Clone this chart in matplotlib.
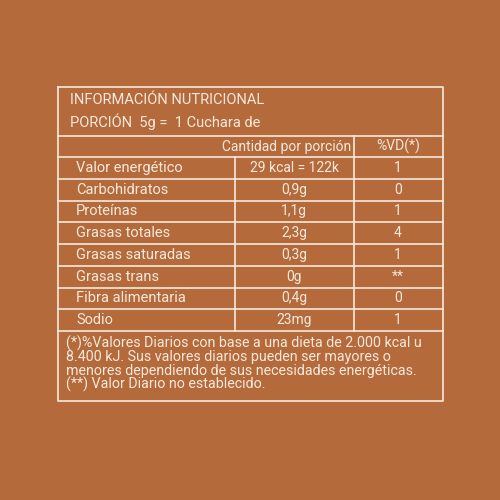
import matplotlib
matplotlib.use("Agg")
import matplotlib.pyplot as plt

nutrients = ["Valor energético", "Carbohidratos", "Proteínas", "Grasas totales",
             "Grasas saturadas", "Grasas trans", "Fibra alimentaria", "Sodio"]
amounts = ["29 kcal = 122k", "0,9g", "1,1g", "2,3g", "0,3g", "0g", "0,4g", "23mg"]
vd = ["1", "0", "1", "4", "1", "**", "0", "1"]
title = "INFORMACIÓN NUTRICIONAL"
portion = "PORCIÓN  5g =  1 Cuchara de"
col_head = ["Cantidad por porción", "%VD(*)"]
footnote = ("(*)%Valores Diarios con base a una dieta de 2.000 kcal u\n"
            "8.400 kJ. Sus valores diarios pueden ser mayores o\n"
            "menores dependiendo de sus necesidades energéticas.\n"
            "(**) Valor Diario no establecido.")

bg = "#B56A3C"
fg = "#F5E9DC"
plt.rcParams['font.family'] = ['Roboto', 'DejaVu Sans']

fig = plt.figure(figsize=(5, 5), dpi=100, facecolor=bg)
ax = fig.add_axes([0, 0, 1, 1])
ax.set_xlim(0, 500); ax.set_ylim(500, 0); ax.axis("off")
ax.set_facecolor(bg)

L, R, T, B = 58, 443, 87, 401
lw = 1.2
ax.plot([L, R, R, L, L], [T, T, B, B, T], color=fg, lw=lw)
ax.plot([L, R], [136, 136], color=fg, lw=lw)
ax.plot([L, R], [157, 157], color=fg, lw=lw)
y0, rh = 157, 21.75
ybot = y0 + rh * len(nutrients)
for i in range(1, len(nutrients) + 1):
    ax.plot([L, R], [y0 + rh * i, y0 + rh * i], color=fg, lw=lw)
ax.plot([235, 235], [y0, ybot], color=fg, lw=lw)
ax.plot([354, 354], [136, ybot], color=fg, lw=lw)

ax.text(70, 100, title, color=fg, fontsize=10.5, va="center", ha="left")
ax.text(70, 122, portion, color=fg, fontsize=10.5, va="center", ha="left")
ax.text(351, 146.5, col_head[0], color=fg, fontsize=10, va="center", ha="right")
ax.text(398, 146.5, col_head[1], color=fg, fontsize=10, va="center", ha="center")
for i, (n, a, v) in enumerate(zip(nutrients, amounts, vd)):
    yc = y0 + rh * (i + 0.5)
    ax.text(76, yc, n, color=fg, fontsize=10.5, va="center", ha="left")
    ax.text(294, yc, a, color=fg, fontsize=10, va="center", ha="center",
            fontstretch="condensed")
    ax.text(398, yc, v, color=fg, fontsize=10, va="center", ha="center")
ax.text(66, ybot + 5, footnote, color=fg, fontsize=10.3, va="top", ha="left",
        linespacing=0.92)
fig.savefig("out.png", dpi=100, facecolor=bg)
